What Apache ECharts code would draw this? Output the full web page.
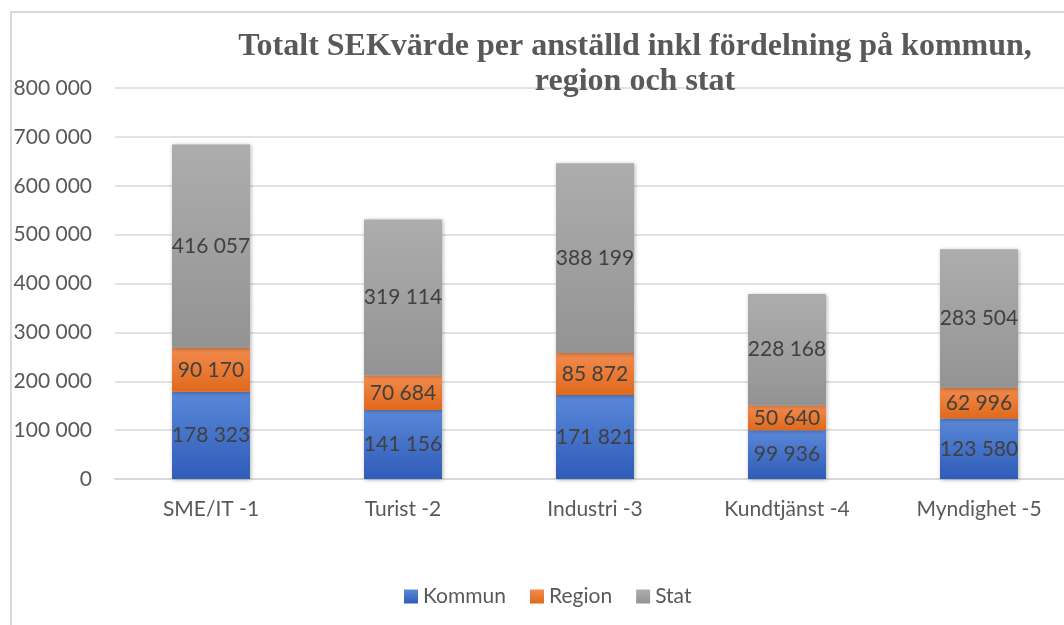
<!DOCTYPE html>
<html>
<head>
<meta charset="utf-8">
<script src="https://cdn.jsdelivr.net/npm/echarts@6/dist/echarts.min.js"></script>
<style>
  html, body { margin: 0; padding: 0; background: #fff; }
  #chart { width: 1064px; height: 625px; }
</style>
</head>
<body>
<div id="chart"></div>
<script>
const categories = ['SME/IT -1', 'Turist -2', 'Industri -3', 'Kundtjänst -4', 'Myndighet -5']
const kommun = [178323, 141156, 171821, 99936, 123580]
const region = [90170, 70684, 85872, 50640, 62996]
const stat = [416057, 319114, 388199, 228168, 283504]

const font = 'Lato, "Open Sans", sans-serif'
const fmt = (v) => String(v).replace(/\B(?=(\d{3})+(?!\d))/g, ' ')

const grad = (top, bottom) => new echarts.graphic.LinearGradient(0, 0, 0, 1, [
  { offset: 0, color: top },
  { offset: 1, color: bottom }
])

const barSeries = (name, data, top, bottom, legendColor) => ({
  name,
  type: 'bar',
  stack: 'total',
  data,
  barWidth: 78,
  color: legendColor,
  itemStyle: {
    color: grad(top, bottom),
    shadowBlur: 4,
    shadowColor: 'rgba(0,0,0,0.3)',
    shadowOffsetX: 1,
    shadowOffsetY: 1
  },
  label: {
    show: true,
    position: 'inside',
    formatter: (p) => fmt(p.value),
    fontFamily: font,
    fontSize: 21,
    color: '#404040'
  },
  emphasis: { disabled: true }
})

const chart = echarts.init(document.getElementById('chart'))
chart.setOption({
  animation: false,
  title: {
    text: 'Totalt SEKvärde per anställd inkl fördelning på kommun,\nregion och stat',
    left: 630,
    top: 24,
    textAlign: 'center',
    textStyle: {
      fontFamily: '"Liberation Serif", "Times New Roman", serif',
      fontWeight: 'bold',
      fontSize: 32,
      lineHeight: 35,
      color: '#595959'
    }
  },
  graphic: [{
    type: 'rect',
    shape: { x: 11, y: 12, width: 1100, height: 700 },
    style: { fill: 'none', stroke: '#d9d9d9', lineWidth: 2 },
    z: -1
  }],
  legend: {
    left: 399,
    top: 581,
    icon: 'rect',
    itemWidth: 14,
    itemHeight: 14,
    itemGap: 24,
    textStyle: { fontFamily: font, fontSize: 21, color: '#595959' },
    data: ['Kommun', 'Region', 'Stat']
  },
  grid: { left: 115, width: 960, top: 88, bottom: 146, outerBoundsMode: 'none' },
  xAxis: {
    type: 'category',
    data: categories,
    axisLine: { show: true, lineStyle: { color: '#d9d9d9', width: 2 } },
    axisTick: { show: false },
    axisLabel: { fontFamily: font, fontSize: 21, color: '#595959', margin: 20 }
  },
  yAxis: {
    type: 'value',
    min: 0,
    max: 800000,
    interval: 100000,
    axisLine: { show: false },
    axisTick: { show: false },
    splitLine: { lineStyle: { color: '#d9d9d9', width: 1.5 } },
    axisLabel: {
      fontFamily: font,
      fontSize: 21,
      color: '#595959',
      margin: 23,
      formatter: (v) => fmt(v)
    }
  },
  series: [
    barSeries('Kommun', kommun, '#5a88d8', '#2e5cb8', '#3a6bc6'),
    barSeries('Region', region, '#f28b4e', '#e0691a', '#ec7a2e'),
    barSeries('Stat', stat, '#adadad', '#939393', '#a3a3a3')
  ]
})
</script>
</body>
</html>
